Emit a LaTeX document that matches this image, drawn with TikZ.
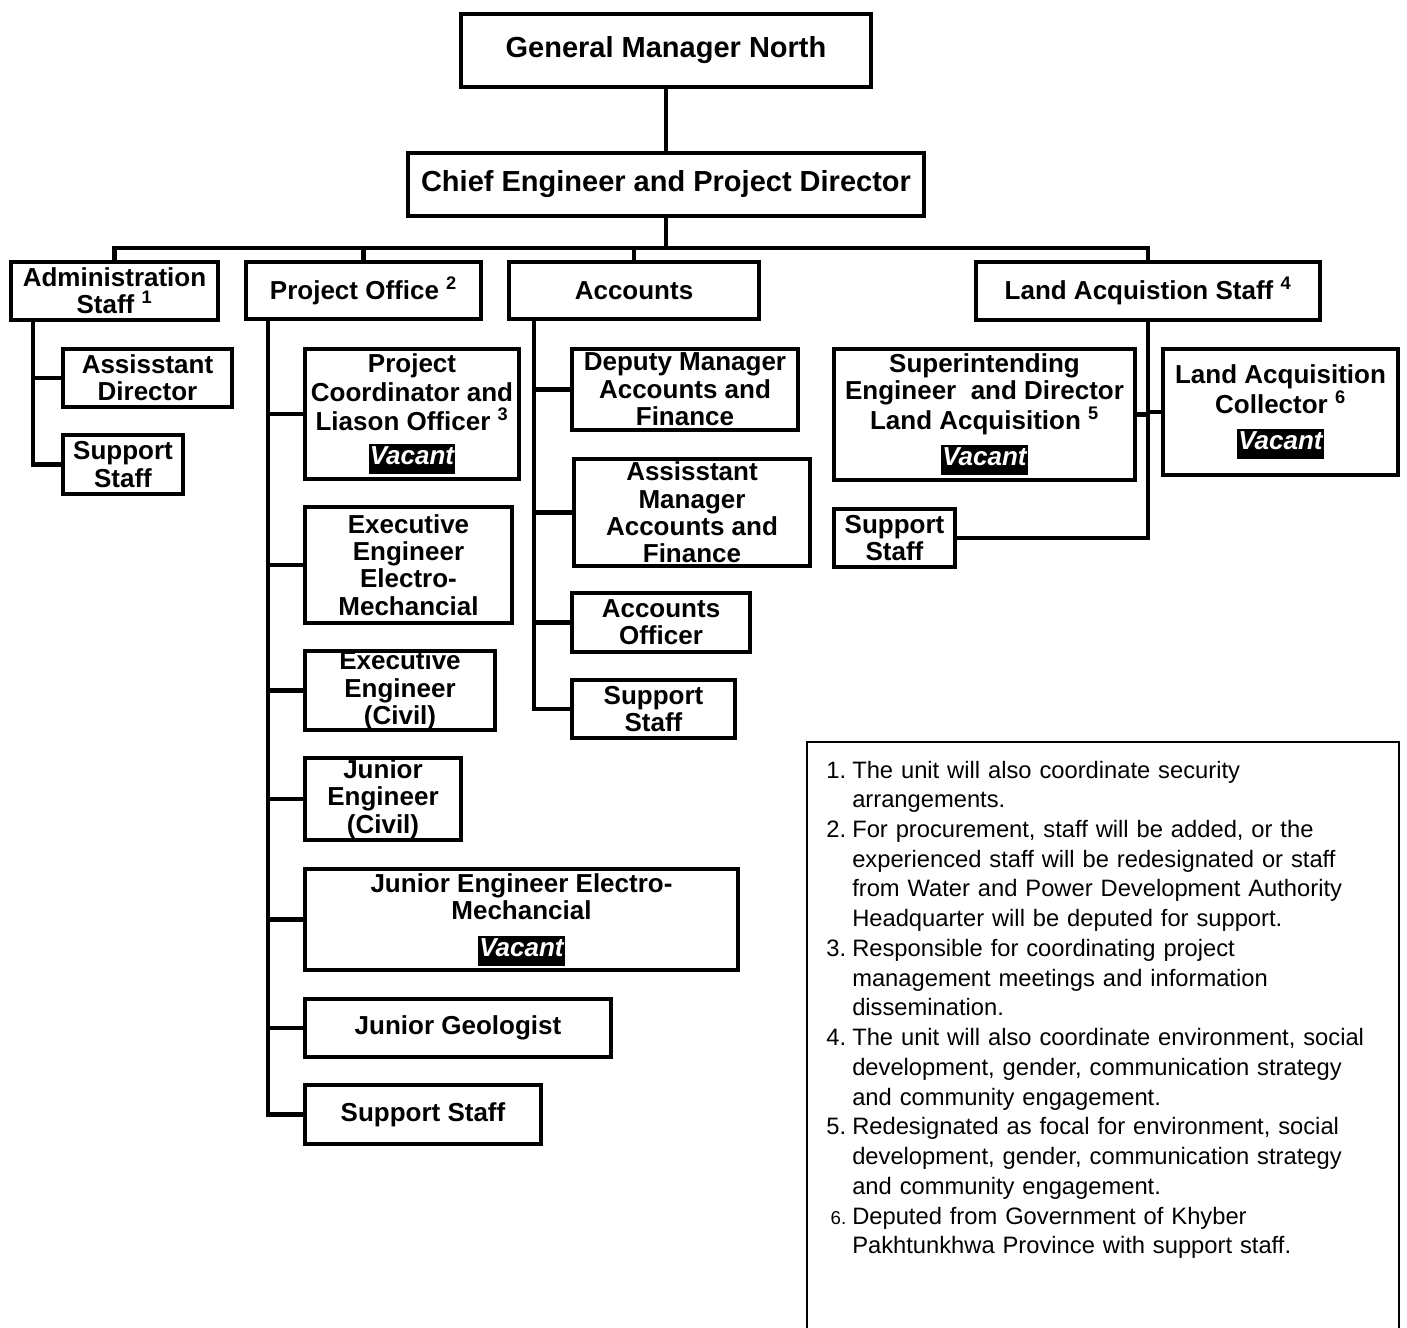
\documentclass[tikz,border=0pt]{standalone}
\usepackage{fontspec}
\setmainfont{Liberation Sans}
\usepackage{enumitem}
\newcommand{\vacant}{{\setlength{\fboxsep}{1pt}\colorbox{black}{\strut\textcolor{white}{\itshape Vacant}}}}

\begin{document}
\begin{tikzpicture}[x=0.75pt, y=-0.75pt,
  box/.style={draw, line width=3pt, align=center, inner sep=0pt,
    font=\fontsize{19.5}{20.5}\selectfont\bfseries},
  head/.style={box, font=\fontsize{21.75}{24}\selectfont\bfseries},
  sz/.style 2 args={minimum width=#1*0.75pt, minimum height=#2*0.75pt},
  link/.style={line width=3.2pt}]
\useasboundingbox (0,0) rectangle (1407,1328);
% top of the chart
\node at(666,50)(gm)[head, sz={410}{73}]{General Manager North};
\node at(666,184.5)(ce)[head, sz={516}{63}]{Chief Engineer and Project Director};
\node at(114.5,291)(adm)[box, sz={207}{58}]{Administration\\Staff \textsuperscript{1}};
\node at(363.5,290.5)(po)[box, sz={235}{57}]{Project Office \textsuperscript{2}};
\node at(634,290.5)(acc)[box, sz={250}{57}]{Accounts};
\node at(1148,291)(las)[box, sz={344}{58}]{Land Acquistion Staff \textsuperscript{4}};
% administration
\node at(147.5,378)(ad)[box, sz={169}{58}]{Assisstant\\Director};
\node at(123,464.5)(ads)[box, sz={120}{59}]{Support\\Staff};
% project office
\node at(412,414)(pc)[box, sz={214}{130}]{Project\\[1pt]Coordinator and\\[1pt]Liason Officer \textsuperscript{3}\\[5pt]\vacant};
\node at(408.5,565)(eee)[box, sz={207}{116}]{Executive\\Engineer\\Electro-\\Mechancial};
\node at(400,690.5)(eec)[box, sz={190}{77}]{Executive\\Engineer\\(Civil)};
\node at(383,799)(jec)[box, sz={156}{82}]{Junior\\Engineer\\(Civil)};
\node at(521.5,919.5)(jee)[box, sz={433}{101}]{Junior Engineer Electro-\\Mechancial\\[7pt]\vacant};
\node at(458,1028)(jg)[box, sz={306}{58}]{Junior Geologist};
\node at(423,1114.5)(pos)[box, sz={236}{59}]{Support Staff};
% accounts
\node at(685,389.5)(dm)[box, sz={226}{81}]{Deputy Manager\\Accounts and\\Finance};
\node at(692,512.5)(am)[box, sz={236}{107}]{Assisstant\\Manager\\Accounts and\\Finance};
\node at(661,622.5)(ao)[box, sz={178}{59}]{Accounts\\Officer};
\node at(653.5,709)(acs)[box, sz={163}{58}]{Support\\Staff};
% land acquisition
\node at(984.5,414.5)(se)[box, sz={301}{131}]{Superintending\\Engineer\ \ and Director\\Land Acquisition \textsuperscript{5}\\[7pt]\vacant};
\node at(1280.5,412)(lac)[box, sz={235}{126}]{Land Acquisition\\Collector \textsuperscript{6}\\[7pt]\vacant};
\node at(894.5,538)(lss)[box, sz={121}{58}]{Support\\Staff};

\coordinate (bus) at (666,248);
\coordinate (admT) at (33,322);
\coordinate (poT) at (268,321);
\coordinate (accT) at (534,321);
\coordinate (lasT) at (1148,322);
\draw[link] (gm) -- (ce);
\draw[link] (ce) -- (bus);
\foreach \n in {adm,po,acc,las} \draw[link] (\n) |- (bus);
\foreach \n in {ad,ads} \draw[link] (admT) |- (\n);
\foreach \n in {pc,eee,eec,jec,jee,jg,pos} \draw[link] (poT) |- (\n);
\foreach \n in {dm,am,ao,acs} \draw[link] (accT) |- (\n);
\foreach \n in {se,lac,lss} \draw[link] (lasT) |- (\n);

% notes
\draw[line width=1.1pt] (807,1340) |- (1399,742) -- (1399,1340);
\node at(807,748)(notes)[anchor=north west, inner sep=0pt, text width=440pt,
  font=\fontsize{17.8}{22.3}\selectfont]{\raggedright
\begin{enumerate}[nosep, leftmargin=33.75pt, labelsep=4.5pt]
\item The unit will also coordinate security\newline arrangements.
\item For procurement, staff will be added, or the\newline experienced staff will be redesignated or staff\newline from Water and Power Development Authority\newline Headquarter will be deputed for support.
\item Responsible for coordinating project\newline management meetings and information\newline dissemination.
\item The unit will also coordinate environment, social\newline development, gender, communication strategy\newline and community engagement.
\item Redesignated as focal for environment, social\newline development, gender, communication strategy\newline and community engagement.
\item[{\fontsize{14}{14}\selectfont 6.}] Deputed from Government of Khyber\newline Pakhtunkhwa Province with support staff.
\end{enumerate}};
\end{tikzpicture}
\end{document}
